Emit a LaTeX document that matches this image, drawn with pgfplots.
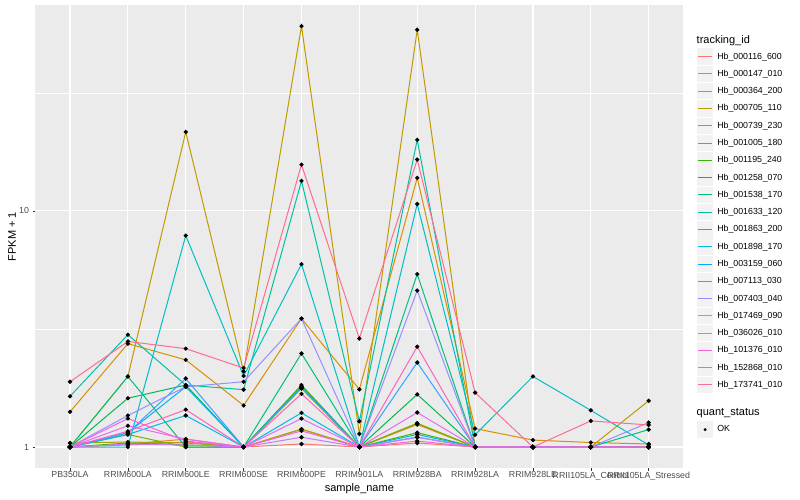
\documentclass[border=0pt]{standalone}
\usepackage{fontspec}
\setmainfont{Liberation Sans}
\usepackage{pgfplots}
\usepackage{pgfplotstable}
\pgfplotsset{compat=1.18}
\definecolor{ggbg}{HTML}{EBEBEB}
\definecolor{ggkey}{HTML}{F2F2F2}
\definecolor{gthirty}{HTML}{4D4D4D}
\definecolor{gtwenty}{HTML}{333333}
\definecolor{c1}{HTML}{F8766D}
\definecolor{c2}{HTML}{EA8331}
\definecolor{c3}{HTML}{D89000}
\definecolor{c4}{HTML}{C09B00}
\definecolor{c5}{HTML}{A3A500}
\definecolor{c6}{HTML}{7CAE00}
\definecolor{c7}{HTML}{39B600}
\definecolor{c8}{HTML}{00BB4E}
\definecolor{c9}{HTML}{00BF7D}
\definecolor{c10}{HTML}{00C1A3}
\definecolor{c11}{HTML}{00BFC4}
\definecolor{c12}{HTML}{00BAE0}
\definecolor{c13}{HTML}{00B0F6}
\definecolor{c14}{HTML}{35A2FF}
\definecolor{c15}{HTML}{9590FF}
\definecolor{c16}{HTML}{C77CFF}
\definecolor{c17}{HTML}{E76BF3}
\definecolor{c18}{HTML}{FA62DB}
\definecolor{c19}{HTML}{FF62BC}
\definecolor{c20}{HTML}{FF6C91}
\pgfplotstableread{
x s1 s2 s3 s4 s5 s6 s7 s8 s9 s10 s11 s12 s13 s14 s15 s16 s17 s18 s19 s20
0 1.0 1.0 1.41 1.0 1.04 1.0 1.0 1.0 1.0 1.64 1.0 1.0 1.0 1.0 1.0 1.0 1.0 1.0 1.0 1.89
1 1.02 1.03 2.74 1.99 1.05 1.13 1.04 1.61 1.99 2.99 1.0 1.13 1.15 1.148 1.36 1.03 1.23 1.32 1.166 2.80
2 1.05 1.08 2.34 21.6 1.04 1.0 1.02 1.83 1.0 1.83 7.86 1.36 1.80 1.95 1.80 1.02 1.08 1.06 1.44 2.61
3 1.0 1.0 1.50 2.09 1.0 1.0 1.0 1.0 1.0 1.75 2.0 1.0 1.0 1.0 1.89 1.0 1.0 1.0 1.0 2.16
4 1.03 1.19 3.50 60.6 1.19 1.77 1.83 1.80 2.49 13.4 5.95 1.395 1.79 1.79 3.5 1.10 1.32 1.17 1.68 15.7
5 1.0 1.0 1.755 1.137 1.0 1.0 1.0 1.0 1.0 1.285 1.0 1.0 1.0 1.0 1.0 1.0 1.0 1.0 1.0 2.88
6 1.04 1.245 13.8 58.5 1.26 1.26 1.15 1.67 5.4 20.0 10.7 1.13 1.10 2.28 4.6 1.10 1.40 1.06 2.66 16.5
7 1.0 1.0 1.197 1.0 1.0 1.0 1.0 1.0 1.0 1.0 1.126 1.0 1.0 1.0 1.0 1.0 1.0 1.0 1.0 1.70
8 1.0 1.0 1.07 1.0 1.0 1.0 1.0 1.0 1.0 1.0 1.99 1.0 1.0 1.0 1.0 1.0 1.0 1.0 1.0 1.0
9 1.0 1.0 1.045 1.0 1.0 1.0 1.0 1.0 1.0 1.0 1.43 1.0 1.0 1.0 1.0 1.0 1.0 1.0 1.0 1.29
10 1.0 1.0 1.03 1.57 1.0 1.0 1.0 1.0 1.185 1.0 1.02 1.0 1.0 1.0 1.27 1.0 1.0 1.0 1.0 1.24
}\data
\begin{document}
\begin{tikzpicture}[x=1pt,y=1pt]
\useasboundingbox (0,0) rectangle (800,500);
\fill[white] (0,0) rectangle (800,500);
\begin{axis}[
  at={(35.3pt,32pt)}, anchor=south west,
  scale only axis, width=648.1pt, height=463pt,
  xmin=-0.6, xmax=10.6,
  ymode=log, ymin=0.815, ymax=74.5,
  axis background/.style={fill=ggbg},
  axis line style={draw=none},
  xtick={0,1,2,3,4,5,6,7,8,9,10},
  xticklabels={PB350LA,RRIM600LA,RRIM600LE,RRIM600SE,RRIM600PE,RRIM901LA,RRIM928BA,RRIM928LA,RRIM928LE,RRII105LA\_Control,RRII105LA\_Stressed},
  ytick={1,10}, yticklabels={1,10},
  minor ytick={3.16228,31.6228},
  xtick pos=bottom, ytick pos=left,
  grid=both,
  major grid style={white, line width=1.1pt},
  minor grid style={white, line width=0.55pt},
  tick style={gtwenty, line width=0.55pt},
  tick align=outside, major tick length=2.75pt, minor tick length=0pt,
  ticklabel style={font=\fontsize{8.8}{10}\selectfont, text=gthirty},
  xticklabel style={yshift=2.5pt},
  xlabel={sample\_name}, ylabel={FPKM + 1},
  label style={font=\fontsize{11}{13}\selectfont},
  xlabel style={at={([yshift=-20.5pt]rel axis cs:0.5,0)}, anchor=center},
  ylabel style={at={([xshift=-23.3pt]rel axis cs:0,0.5)}, anchor=center},
  legend cell align=left,
  legend style={at={([xshift=13.1pt,yshift=-43pt]rel axis cs:1,1)}, anchor=north west,
    draw=none, fill=none, inner sep=0pt, outer sep=0pt, row sep=0pt, column sep=0pt,
    font=\fontsize{8.8}{10}\selectfont, nodes={inner xsep=3.5pt, inner ysep=0pt}},
  legend image code/.code={\path[draw=none,fill=none] (0pt,-8.64pt) rectangle (17.28pt,8.64pt);
    \path[draw=none,fill=ggkey] (0.4pt,-8.24pt) rectangle (16.88pt,8.24pt);
    \draw[#1] (1.7pt,0pt) -- (15.6pt,0pt);},
  every axis plot/.append style={line width=1pt},
]
\addplot[c1, no markers] table[x=x,y=s1]{\data}; \addlegendentry{Hb\_000116\_600}
\addplot[c2, no markers] table[x=x,y=s2]{\data}; \addlegendentry{Hb\_000147\_010}
\addplot[c3, no markers] table[x=x,y=s3]{\data}; \addlegendentry{Hb\_000364\_200}
\addplot[c4, no markers] table[x=x,y=s4]{\data}; \addlegendentry{Hb\_000705\_110}
\addplot[c5, no markers] table[x=x,y=s5]{\data}; \addlegendentry{Hb\_000739\_230}
\addplot[c6, no markers] table[x=x,y=s6]{\data}; \addlegendentry{Hb\_001005\_180}
\addplot[c7, no markers] table[x=x,y=s7]{\data}; \addlegendentry{Hb\_001195\_240}
\addplot[c8, no markers] table[x=x,y=s8]{\data}; \addlegendentry{Hb\_001258\_070}
\addplot[c9, no markers] table[x=x,y=s9]{\data}; \addlegendentry{Hb\_001538\_170}
\addplot[c10, no markers] table[x=x,y=s10]{\data}; \addlegendentry{Hb\_001633\_120}
\addplot[c11, no markers] table[x=x,y=s11]{\data}; \addlegendentry{Hb\_001863\_200}
\addplot[c12, no markers] table[x=x,y=s12]{\data}; \addlegendentry{Hb\_001898\_170}
\addplot[c13, no markers] table[x=x,y=s13]{\data}; \addlegendentry{Hb\_003159\_060}
\addplot[c14, no markers] table[x=x,y=s14]{\data}; \addlegendentry{Hb\_007113\_030}
\addplot[c15, no markers] table[x=x,y=s15]{\data}; \addlegendentry{Hb\_007403\_040}
\addplot[c16, no markers] table[x=x,y=s16]{\data}; \addlegendentry{Hb\_017469\_090}
\addplot[c17, no markers] table[x=x,y=s17]{\data}; \addlegendentry{Hb\_036026\_010}
\addplot[c18, no markers] table[x=x,y=s18]{\data}; \addlegendentry{Hb\_101376\_010}
\addplot[c19, no markers] table[x=x,y=s19]{\data}; \addlegendentry{Hb\_152868\_010}
\addplot[c20, no markers] table[x=x,y=s20]{\data}; \addlegendentry{Hb\_173741\_010}
\pgfplotsinvokeforeach{1,...,20}{
  \addplot[forget plot, only marks, mark=*, mark size=1.6pt, black] table[x=x,y=s#1]{\data};
}
\addlegendimage{legend image code/.code={\path[draw=none,fill=none] (0pt,-13.7pt) rectangle (17.28pt,13.7pt);}}
\addlegendentry{}
\addlegendimage{legend image code/.code={\path[draw=none,fill=none] (0pt,-8.64pt) rectangle (17.28pt,8.64pt);
    \path[draw=none,fill=ggkey] (0.4pt,-8.24pt) rectangle (16.88pt,8.24pt);
    \path[draw=none,fill=black] (8.64pt,0pt) circle (1.6pt);}}
\addlegendentry{OK}
\end{axis}
\node[anchor=west, font=\fontsize{11}{13}\selectfont, inner sep=0pt] at (696.5,459.3) {tracking\_id};
\node[anchor=west, font=\fontsize{11}{13}\selectfont, inner sep=0pt] at (696.5,87.3) {quant\_status};
\end{tikzpicture}
\end{document}
